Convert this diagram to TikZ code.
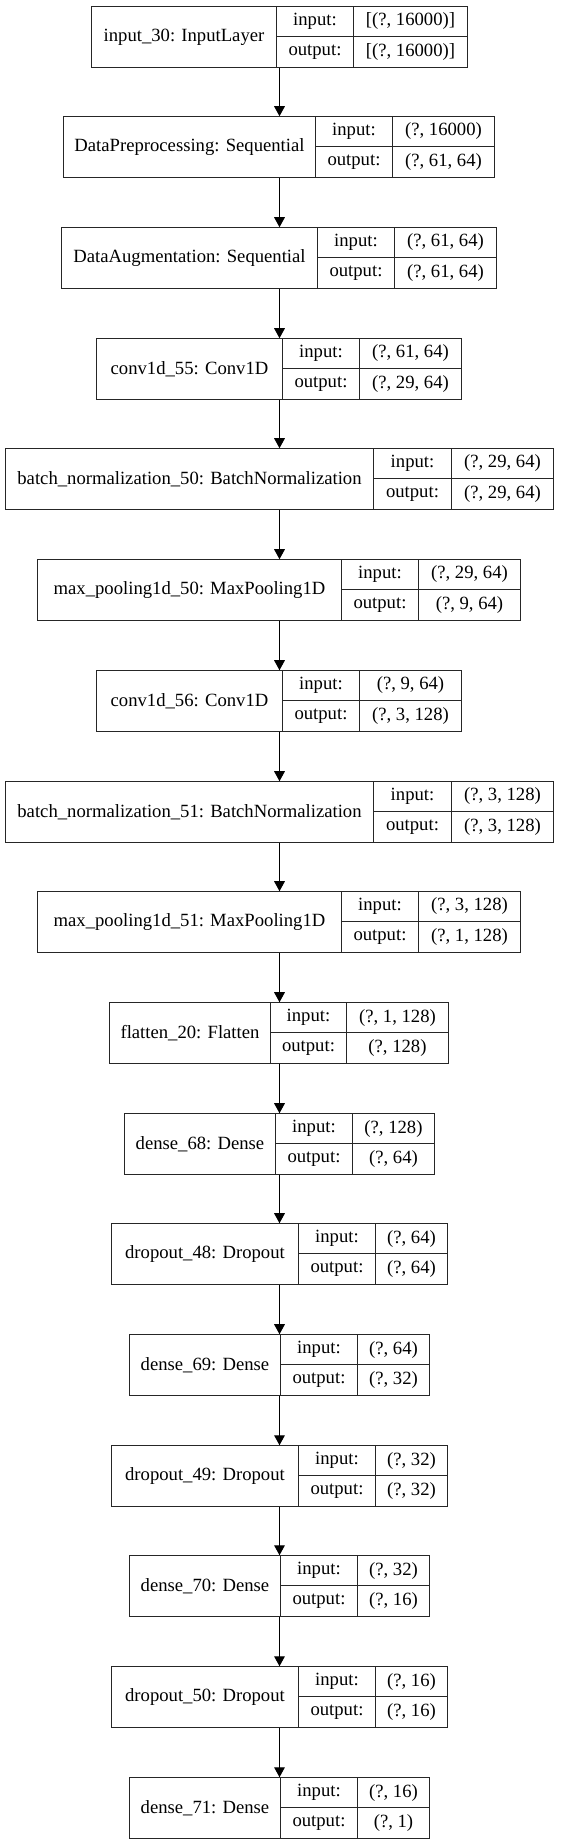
\documentclass[tikz,border=0pt]{standalone}
\usepackage{fontspec}
\setmainfont{Liberation Serif}
\usetikzlibrary{arrows.meta}
\tikzset{
  cell/.style={draw=none, rectangle, inner sep=0pt,
    font=\fontsize{14}{16}\selectfont},
  box/.style={draw=black!85, line width=0.9pt, rectangle, inner sep=0pt},
  divider/.style={draw=black!85, line width=0.9pt},
  arr/.style={-{Triangle[length=7.5pt,width=8pt]}, line width=0.8pt},
}
% #1 name, #2 index, #3 x0, #4 x1, #5 x2, #6 x3, #7 label, #8 input, #9 output
\newcommand\layer[9]{%
  \pgfmathsetmacro\yt{round(5.7+110.7*#2)+0.5}%
  \pgfmathsetmacro\ym{\yt+30}%
  \pgfmathsetmacro\yb{\yt+61}%
  \pgfmathsetmacro\xa{round(#3)+0.5}%
  \pgfmathsetmacro\xb{round(#4)+0.5}%
  \pgfmathsetmacro\xc{round(#5)+0.5}%
  \pgfmathsetmacro\xd{round(#6)+0.5}%
  \draw[box] (\xa,\yt) rectangle (\xd,\yb);
  \node[cell, minimum width={(\xd-\xa)*0.75pt}, minimum height={61*0.75pt}]
    (#1) at ({(\xa+\xd)/2},{\yt+30.5}) {};
  \node[cell] (#1-l) at ({(\xa+\xb)/2},{\yt+30.5}) {#7};
  \node[cell] (#1-ik) at ({(\xb+\xc)/2},{\yt+15}) {input:};
  \node[cell] (#1-iv) at ({(\xc+\xd)/2},{\yt+15}) {#8};
  \node[cell] (#1-ok) at ({(\xb+\xc)/2},{\yt+45.5}) {output:};
  \node[cell] (#1-ov) at ({(\xc+\xd)/2},{\yt+45.5}) {#9};
  \draw[divider] (\xb,\yt) -- (\xb,\yb);
  \draw[divider] (\xc,\yt) -- (\xc,\yb);
  \draw[divider] (\xb,\ym) -- (\xd,\ym);
}
\begin{document}
\begin{tikzpicture}[x=0.75pt,y=-0.75pt]
\useasboundingbox[fill=white] (0,0) rectangle (561,1844);
\coordinate (ax) at (279.5,0);
\layer{L0}{0}{90.7}{276.3}{353.1}{466.9}{input\_30: InputLayer}{[(?, 16000)]}{[(?, 16000)]}
\layer{L1}{1}{63.3}{315.1}{392.2}{494.3}{DataPreprocessing: Sequential}{(?, 16000)}{(?, 61, 64)}
\layer{L2}{2}{61.2}{316.8}{394.0}{496.4}{DataAugmentation: Sequential}{(?, 61, 64)}{(?, 61, 64)}
\layer{L3}{3}{96.4}{281.6}{359.2}{461.2}{conv1d\_55: Conv1D}{(?, 61, 64)}{(?, 29, 64)}
\layer{L4}{4}{4.6}{373.4}{450.5}{553.0}{batch\_normalization\_50: BatchNormalization}{(?, 29, 64)}{(?, 29, 64)}
\layer{L5}{5}{37.3}{341.0}{418.2}{520.2}{max\_pooling1d\_50: MaxPooling1D}{(?, 29, 64)}{(?, 9, 64)}
\layer{L6}{6}{96.4}{281.6}{359.2}{461.2}{conv1d\_56: Conv1D}{(?, 9, 64)}{(?, 3, 128)}
\layer{L7}{7}{4.6}{373.4}{450.5}{553.0}{batch\_normalization\_51: BatchNormalization}{(?, 3, 128)}{(?, 3, 128)}
\layer{L8}{8}{37.3}{341.0}{418.2}{520.2}{max\_pooling1d\_51: MaxPooling1D}{(?, 3, 128)}{(?, 1, 128)}
\layer{L9}{9}{109.2}{269.5}{346.4}{448.4}{flatten\_20: Flatten}{(?, 1, 128)}{(?, 128)}
\layer{L10}{10}{123.7}{274.5}{351.7}{433.8}{dense\_68: Dense}{(?, 128)}{(?, 64)}
\layer{L11}{11}{110.9}{297.6}{375.2}{446.6}{dropout\_48: Dropout}{(?, 64)}{(?, 64)}
\layer{L12}{12}{128.7}{280.2}{357.0}{428.5}{dense\_69: Dense}{(?, 64)}{(?, 32)}
\layer{L13}{13}{110.9}{297.6}{375.2}{446.6}{dropout\_49: Dropout}{(?, 32)}{(?, 32)}
\layer{L14}{14}{128.7}{280.2}{357.0}{428.5}{dense\_70: Dense}{(?, 32)}{(?, 16)}
\layer{L15}{15}{110.9}{297.6}{375.2}{446.6}{dropout\_50: Dropout}{(?, 16)}{(?, 16)}
\layer{L16}{16}{128.7}{280.2}{357.0}{428.5}{dense\_71: Dense}{(?, 16)}{(?, 1)}
\foreach \a/\b in {L0/L1,L1/L2,L2/L3,L3/L4,L4/L5,L5/L6,L6/L7,L7/L8,L8/L9,L9/L10,L10/L11,L11/L12,L12/L13,L13/L14,L14/L15,L15/L16}
  \draw[arr] (\a.south -| ax) -- (\b.north -| ax);
\end{tikzpicture}
\end{document}
